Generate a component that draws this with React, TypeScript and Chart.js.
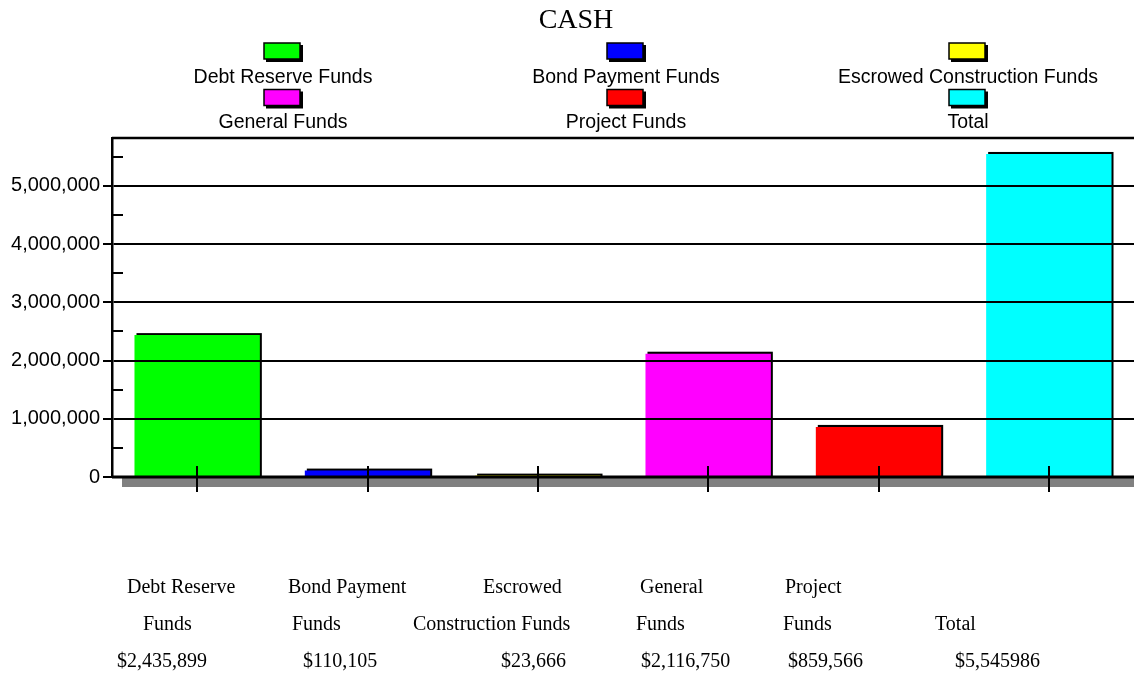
import React, { useEffect, useRef } from 'react';
import { Chart, registerables } from 'chart.js';

Chart.register(...registerables);

const chartTitle = 'CASH';
const categories = [
  'Debt Reserve Funds',
  'Bond Payment Funds',
  'Escrowed Construction Funds',
  'General Funds',
  'Project Funds',
  'Total',
];
const cashValues = [2435899, 110105, 23666, 2116750, 859566, 5545986];
const barColors = ['#00ff00', '#0000ff', '#ffff00', '#ff00ff', '#ff0000', '#00ffff'];
const yMax = 5820000;
const yMajor = 1000000;
const yTickValues = [0, 500000, 1000000, 1500000, 2000000, 2500000, 3000000, 3500000, 4000000, 4500000, 5000000, 5500000];

const tableRow1 = ['Debt Reserve', 'Bond Payment', 'Escrowed', 'General', 'Project'];
const tableRow2 = ['Funds', 'Funds', 'Construction Funds', 'Funds', 'Funds', 'Total'];
const tableRow3 = ['$2,435,899', '$110,105', '$23,666', '$2,116,750', '$859,566', '$5,545986'];

const W = 1134;
const H = 673;
const SANS = '"Liberation Sans", Arial, sans-serif';
const SERIF = '"Liberation Serif", "Times New Roman", serif';

const row1X = [127, 288, 483, 640, 785];
const row2X = [143, 292, 413, 636, 783, 935];
const row3X = [117, 303, 501, 641, 788, 955];
const legendCX = [283, 626, 968];

function isMajor(v: number) {
  const r = v / yMajor;
  return Math.abs(r - Math.round(r)) < 1e-6;
}

function line(ctx: CanvasRenderingContext2D, x1: number, y1: number, x2: number, y2: number) {
  ctx.beginPath();
  ctx.moveTo(x1, y1);
  ctx.lineTo(x2, y2);
  ctx.stroke();
}

const barShadowPlugin = {
  id: 'barShadow',
  beforeDatasetsDraw(chart: any) {
    const ctx: CanvasRenderingContext2D = chart.ctx;
    const meta = chart.getDatasetMeta(0);
    ctx.save();
    ctx.fillStyle = '#000';
    meta.data.forEach((el: any) => {
      const { x, y, base, width } = el.getProps(['x', 'y', 'base', 'width'], true);
      ctx.fillRect(x - width / 2 + 2, y - 2, width, base - y + 2);
    });
    ctx.restore();
  },
};

const decorPlugin = {
  id: 'decor',
  afterDraw(chart: any) {
    const ctx: CanvasRenderingContext2D = chart.ctx;
    const { left, top, bottom } = chart.chartArea;
    const xs = chart.scales.x;
    const ys = chart.scales.y;
    ctx.save();

    // top border
    ctx.strokeStyle = '#000';
    ctx.lineWidth = 2.5;
    line(ctx, left, top, W, top);

    // floor shadow
    ctx.fillStyle = '#808080';
    ctx.fillRect(left + 10, bottom + 1, W - left - 10, 9);

    // x axis line
    ctx.strokeStyle = '#000';
    ctx.lineWidth = 3;
    line(ctx, left, bottom, W, bottom);

    // category ticks
    ctx.lineWidth = 2;
    for (let i = 0; i < categories.length; i++) {
      const px = Math.round(xs.getPixelForValue(i));
      line(ctx, px, bottom - 11, px, bottom + 15);
    }

    // minor ticks inside
    ys.ticks.forEach((t: any) => {
      if (!isMajor(t.value)) {
        const py = Math.round(ys.getPixelForValue(t.value));
        line(ctx, left, py, left + 11, py);
      }
    });

    // title
    ctx.fillStyle = '#000';
    ctx.font = `28px ${SERIF}`;
    ctx.textAlign = 'center';
    ctx.textBaseline = 'alphabetic';
    ctx.fillText(chartTitle, 576, 28);

    // legend
    ctx.font = `19.5px ${SANS}`;
    for (let i = 0; i < categories.length; i++) {
      const col = i % 3;
      const row = Math.floor(i / 3);
      const cx = legendCX[col];
      const bx = cx - 19;
      const by = 43 + row * 46.5;
      ctx.fillStyle = '#000';
      ctx.fillRect(bx + 2, by + 2, 37, 17);
      ctx.fillStyle = barColors[i];
      ctx.fillRect(bx, by, 36, 16);
      ctx.strokeStyle = '#000';
      ctx.lineWidth = 1.5;
      ctx.strokeRect(bx, by, 36, 16);
      ctx.fillStyle = '#000';
      ctx.textAlign = 'center';
      ctx.fillText(categories[i], cx, 83 + row * 45);
    }

    // data table
    ctx.font = `20px ${SERIF}`;
    ctx.textAlign = 'left';
    ctx.fillStyle = '#000';
    tableRow1.forEach((s, i) => ctx.fillText(s, row1X[i], 593));
    tableRow2.forEach((s, i) => ctx.fillText(s, row2X[i], 630));
    tableRow3.forEach((s, i) => ctx.fillText(s, row3X[i], 667));

    ctx.restore();
  },
};

export default function App() {
  const ref = useRef<HTMLCanvasElement | null>(null);

  useEffect(() => {
    if (!ref.current) return;
    const chart = new Chart(ref.current, {
      type: 'bar',
      data: {
        labels: categories,
        datasets: [
          {
            data: cashValues,
            backgroundColor: barColors,
            borderWidth: 0,
            barPercentage: 0.736,
            categoryPercentage: 1,
          },
        ],
      },
      options: {
        animation: false,
        responsive: false,
        maintainAspectRatio: false,
        layout: { padding: { top: 138, bottom: 196, left: 0, right: -6 } },
        plugins: {
          legend: { display: false },
          title: { display: false },
          tooltip: { enabled: false },
        },
        scales: {
          x: { display: false, offset: true },
          y: {
            min: 0,
            max: yMax,
            afterBuildTicks: (scale: any) => {
              scale.ticks = yTickValues.map((v) => ({ value: v }));
            },
            afterFit: (scale: any) => {
              scale.width = 112;
            },
            border: { display: true, color: '#000', width: 2.5, z: 1 },
            grid: {
              z: 1,
              drawOnChartArea: true,
              drawTicks: true,
              tickLength: 9,
              lineWidth: 2,
              color: (c: any) => (c.tick && isMajor(c.tick.value) ? '#000' : 'rgba(0,0,0,0)'),
              tickColor: (c: any) => (c.tick && isMajor(c.tick.value) ? '#000' : 'rgba(0,0,0,0)'),
              tickWidth: 2,
            },
            ticks: {
              z: 1,
              autoSkip: false,
              padding: 3,
              color: '#000',
              font: { family: SANS, size: 20 },
              callback: (v: any) => (isMajor(Number(v)) ? Math.round(Number(v)).toLocaleString('en-US') : ''),
            },
          },
        },
      },
      plugins: [barShadowPlugin, decorPlugin],
    });
    return () => chart.destroy();
  }, []);

  return (
    <div style={{ position: 'fixed', left: 0, top: 0, width: W, height: H, background: '#fff' }}>
      <canvas ref={ref} width={W} height={H} style={{ width: W, height: H, display: 'block' }} />
    </div>
  );
}
